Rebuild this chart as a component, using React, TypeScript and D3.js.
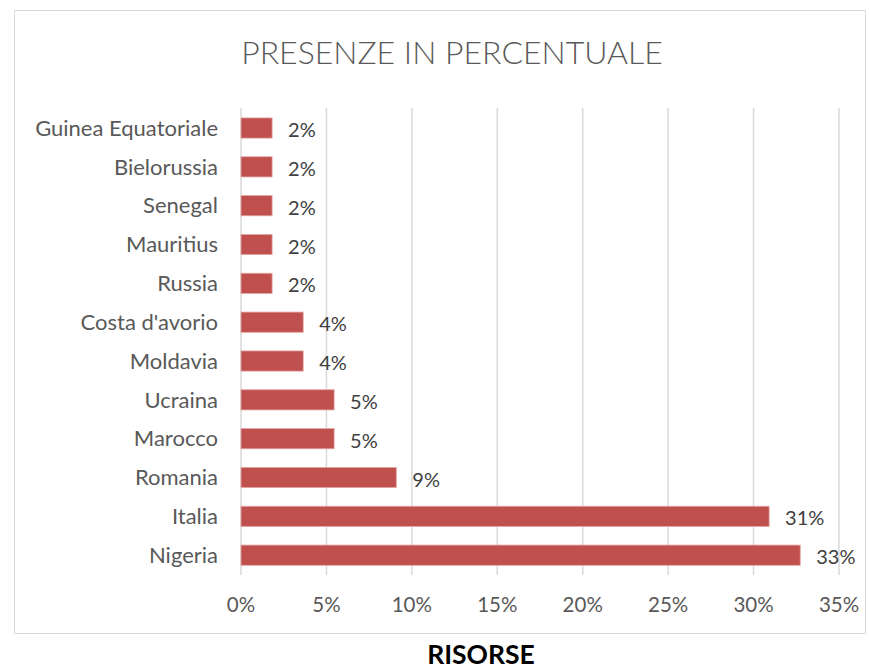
import React from "react";
import * as d3 from "d3";

const categories = [
  "Guinea Equatoriale",
  "Bielorussia",
  "Senegal",
  "Mauritius",
  "Russia",
  "Costa d'avorio",
  "Moldavia",
  "Ucraina",
  "Marocco",
  "Romania",
  "Italia",
  "Nigeria",
];
const values = [1.82, 1.82, 1.82, 1.82, 1.82, 3.64, 3.64, 5.45, 5.45, 9.09, 30.91, 32.73];
const xTicks = [0, 5, 10, 15, 20, 25, 30, 35];
const title = "PRESENZE IN PERCENTUALE";
const caption = "RISORSE";

const W = 869;
const H = 671;
const FONT = "Lato, 'Open Sans', sans-serif";

export default function App() {
  const x = d3.scaleLinear().domain([0, 35]).range([241, 839]);
  const y = d3.scaleBand<string>().domain(categories).range([108.6, 574.6]).paddingInner(0.48).paddingOuter(0.24);
  const fmt = (v: number) => `${Math.round(v)}%`;
  return (
    <svg width={W} height={H} style={{ position: "absolute", left: 0, top: 0, background: "#fff" }}>
      <rect x={14.5} y={10.5} width={851} height={623} fill="#fff" stroke="#d9d9d9" strokeWidth={1} />
      <text x={452} y={64} textAnchor="middle" fontFamily={FONT} fontSize={32} fill="#595959" fontWeight={300}>
        {title}
      </text>
      {xTicks.map((t) => (
        <g key={t}>
          <line x1={x(t)} x2={x(t)} y1={108} y2={575} stroke="#d9d9d9" strokeWidth={1.5} />
          <text x={x(t)} y={612} textAnchor="middle" fontFamily={FONT} fontSize={20.5} fill="#595959">
            {t}%
          </text>
        </g>
      ))}
      {categories.map((c, i) => {
        const yy = y(c)!;
        const bw = y.bandwidth();
        return (
          <g key={c}>
            <rect x={x(0)} y={yy} width={x(values[i]) - x(0)} height={bw} fill="#C0504D" stroke="#e3a5a3" strokeWidth={0.8} />
            <text x={218} y={yy + bw / 2} dy="0.35em" textAnchor="end" fontFamily={FONT} fontSize={22} fill="#595959">
              {c}
            </text>
            <text x={x(values[i]) + 16} y={yy + bw / 2 + 2} dy="0.35em" fontFamily={FONT} fontSize={20} fill="#404040">
              {fmt(values[i])}
            </text>
          </g>
        );
      })}
      <text x={481} y={664} textAnchor="middle" fontFamily={FONT} fontSize={26.5} fontWeight={700} fill="#000">
        {caption}
      </text>
    </svg>
  );
}
